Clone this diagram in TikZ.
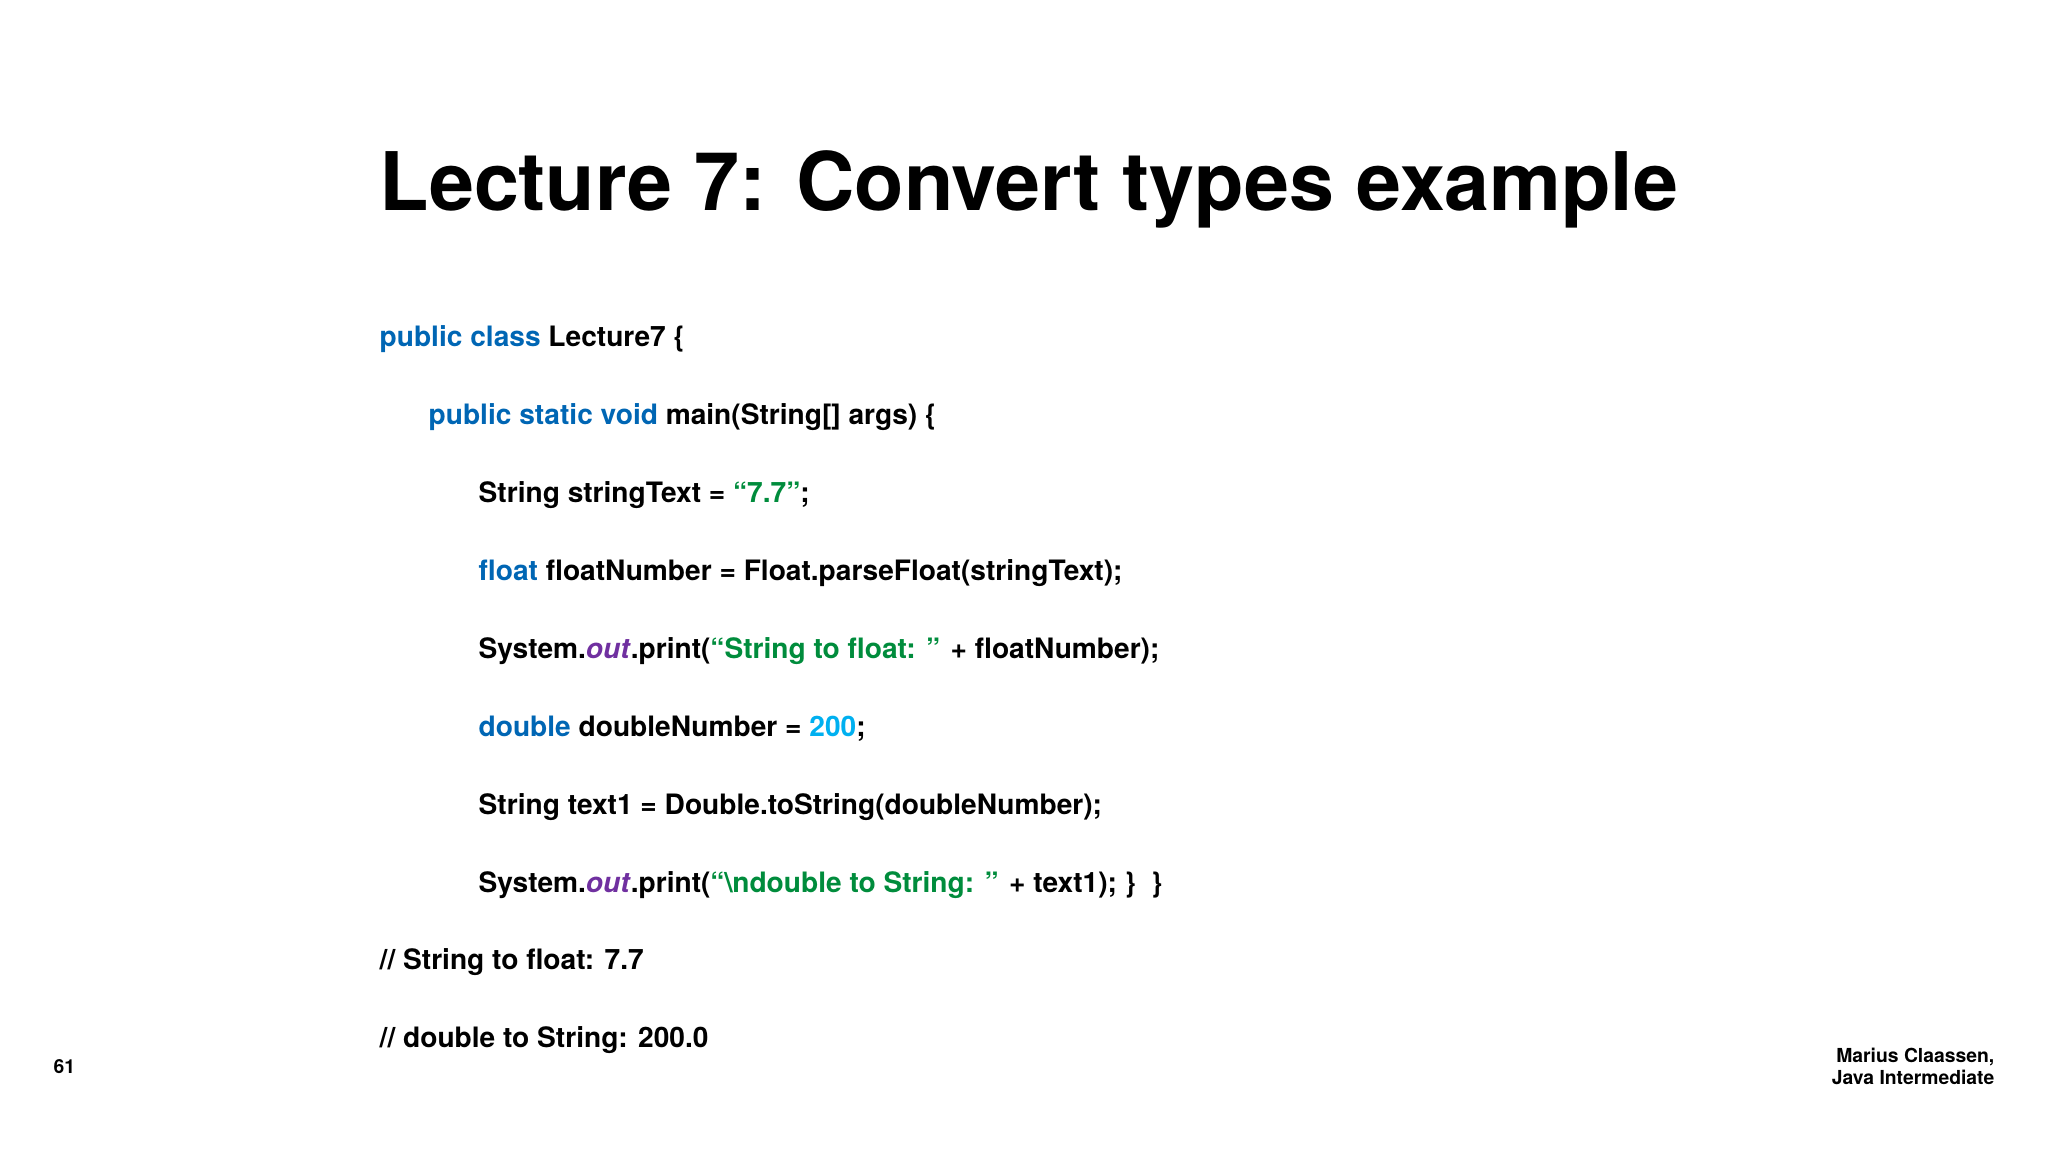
\documentclass[tikz,border=0pt]{standalone}
\usepackage{fontspec}
\setmainfont{TeX Gyre Heros}
\usepackage{xcolor}
\definecolor{kwblue}{RGB}{0,102,180}
\definecolor{strgreen}{RGB}{0,140,60}
\definecolor{outpurple}{RGB}{112,48,160}
\definecolor{numcyan}{RGB}{0,176,240}
\newcommand{\kw}[1]{\textcolor{kwblue}{#1}}
\newcommand{\str}[1]{\textcolor{strgreen}{#1}}
\newcommand{\outw}{\textcolor{outpurple}{\textit{out}}}

\begin{document}
\begin{tikzpicture}[codeline/.style={anchor=base west, inner sep=0pt, font=\fontsize{8}{10}\selectfont\bfseries}]
        \useasboundingbox (0,0) rectangle (20.48,11.52);
        \node[anchor=base west, inner sep=0pt, font=\fontsize{23}{27}\selectfont\bfseries] (title) at (3.79,9.41) {Lecture 7: Convert types example};
        % Code lines
        \node[codeline] (l1) at (3.79,8.05) {\kw{public class} Lecture7 \{};
        \node[codeline] (l2) at (4.28,7.27) {\kw{public static void} main(String[] args) \{};
        \node[codeline] (l3) at (4.78,6.49) {String stringText = \str{“7.7”};};
        \node[codeline] (l4) at (4.78,5.71) {\kw{float} floatNumber = Float.parseFloat(stringText);};
        \node[codeline] (l5) at (4.78,4.93) {System.\outw.print(\str{“String to float: ”} + floatNumber);};
        \node[codeline] (l6) at (4.78,4.15) {\kw{double} doubleNumber = \textcolor{numcyan}{200};};
        \node[codeline] (l7) at (4.78,3.37) {String text1 = Double.toString(doubleNumber);};
        \node[codeline] (l8) at (4.78,2.59) {System.\outw.print(\str{“\textbackslash ndouble to String: ”} + text1); \}~~\}};
        \node[codeline] (l9) at (3.79,1.82) {// String to float: 7.7};
        \node[codeline] (l10) at (3.79,1.04) {// double to String: 200.0};
        % Footer
        \node[anchor=base west, inner sep=0pt, font=\fontsize{5.5}{7}\selectfont\bfseries] (page) at (0.53,0.78) {61};
        \node[anchor=north east, inner sep=0pt, align=right, font=\fontsize{5.5}{6.5}\selectfont\bfseries] (author) at (19.95,1.05) {Marius Claassen,\\Java Intermediate};
    \end{tikzpicture}
\end{document}
